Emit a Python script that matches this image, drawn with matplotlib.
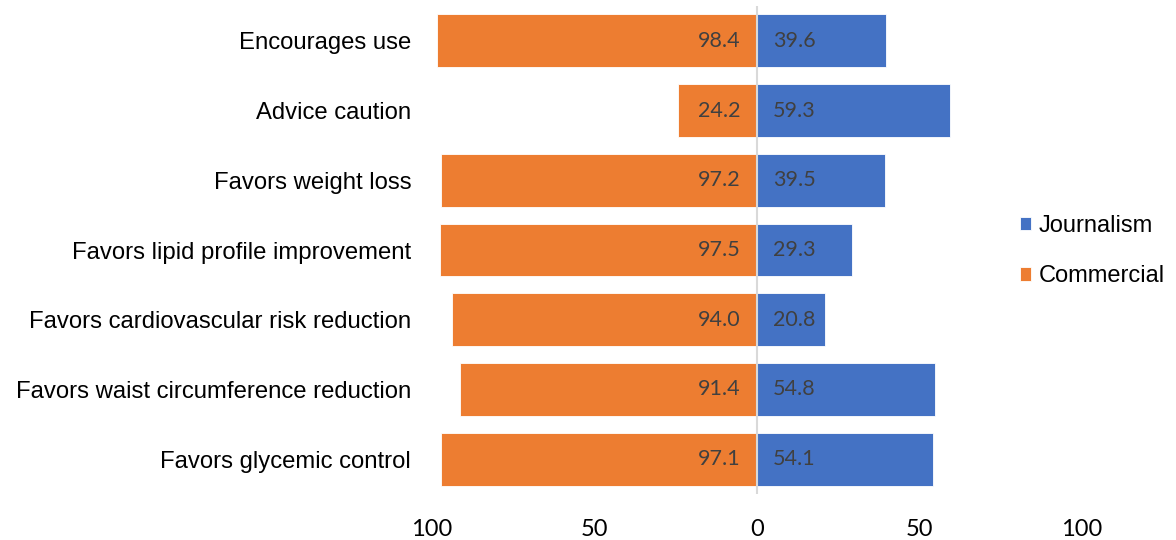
import numpy as np
import matplotlib.pyplot as plt
from matplotlib.ticker import FuncFormatter

categories = ['Encourages use', 'Advice caution', 'Favors weight loss',
              'Favors lipid profile improvement', 'Favors cardiovascular risk reduction',
              'Favors waist circumference reduction', 'Favors glycemic control']
commercial = [98.4, 24.2, 97.2, 97.5, 94.0, 91.4, 97.1]
journalism = [39.6, 59.3, 39.5, 29.3, 20.8, 54.8, 54.1]

blue = '#4472C4'
orange = '#ED7D31'
label_col = '#404040'

fig = plt.figure(figsize=(11.76, 5.4), dpi=100)
ax = fig.add_axes([432 / 1176, 1 - 494 / 540, 650 / 1176, 488 / 540])

y = np.arange(len(categories))
ax.barh(y, journalism, height=0.76, color=blue, edgecolor='white', linewidth=0.6, label='Journalism')
ax.barh(y, [-v for v in commercial], height=0.76, color=orange, edgecolor='white', linewidth=0.6, label='Commercial')

# value labels near the zero line
for yi, c, j in zip(y, commercial, journalism):
    ax.text(-5, yi, '%.1f' % c, ha='right', va='center', fontsize=15.5, color=label_col, family='Lato')
    ax.text(5, yi, '%.1f' % j, ha='left', va='center', fontsize=15.5, color=label_col, family='Lato')

ax.set_xlim(-100, 100)
ax.set_ylim(len(categories) - 0.5, -0.5)
ax.set_xticks([-100, -50, 0, 50, 100])
ax.xaxis.set_major_formatter(FuncFormatter(lambda v, p: '%d' % abs(v)))
ax.set_yticks(y)
ax.set_yticklabels(categories, fontsize=17.2, family='Liberation Sans')
ax.tick_params(axis='y', length=0, pad=15)
ax.tick_params(axis='x', length=0, pad=18, labelsize=17)
for lab in ax.get_xticklabels():
    lab.set_family('Lato')

for s in ['top', 'right', 'bottom', 'left']:
    ax.spines[s].set_visible(False)
ax.axvline(0, color='#D9D9D9', linewidth=1.5, zorder=3)

h, l = ax.get_legend_handles_labels()
fig.legend(h, l, loc='center left', bbox_to_anchor=(0.849, 0.535), frameon=False,
           prop={'family': 'Liberation Sans', 'size': 17}, handlelength=0.5, handleheight=0.5,
           handletextpad=0.3, labelspacing=1.2)

fig.savefig('out.png', dpi=100)
